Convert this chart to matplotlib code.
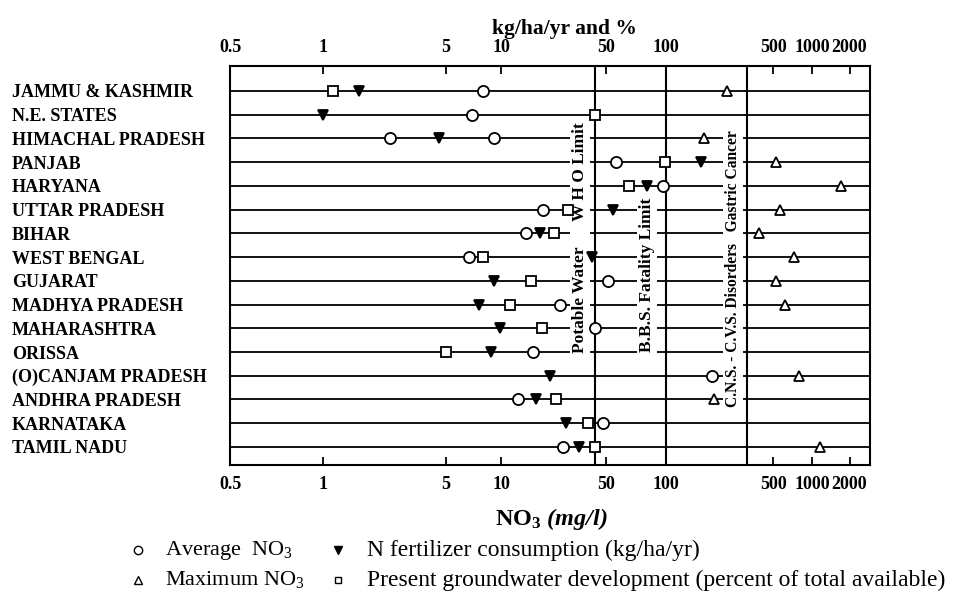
import numpy as np
import matplotlib
matplotlib.use("Agg")
import matplotlib.pyplot as plt
from matplotlib.lines import Line2D
from matplotlib.ticker import FixedLocator, FuncFormatter, NullLocator
from matplotlib.transforms import blended_transform_factory

plt.rcParams['font.family'] = ['Liberation Serif', 'DejaVu Serif']
plt.rcParams['mathtext.fontset'] = 'custom'
plt.rcParams['mathtext.rm'] = 'Liberation Serif'
plt.rcParams['mathtext.it'] = 'Liberation Serif:italic'
plt.rcParams['mathtext.bf'] = 'Liberation Serif:bold'
plt.rcParams['mathtext.bfit'] = 'Liberation Serif:italic:bold'

# data
states = ["JAMMU & KASHMIR", "N.E. STATES", "HIMACHAL PRADESH", "PANJAB",
          "HARYANA", "UTTAR PRADESH", "BIHAR", "WEST BENGAL", "GUJARAT",
          "MADHYA PRADESH", "MAHARASHTRA", "ORISSA", "(O)CANJAM PRADESH",
          "ANDHRA PRADESH", "KARNATAKA", "TAMIL NADU"]
avg_no3 = [8.0, 6.9, 9.1, 56, 97, 18.8, 14.6, 6.7, 51, 24.7, 42, 16.3, 201, 12.9, 47.8, 25.9]
avg_no3_second = [np.nan, np.nan, 2.4] + [np.nan] * 13
n_fertilizer = [1.6, 1.0, 4.6, 169, 80, 54, 18.2, 40, 9.1, 7.6, 9.8, 8.8, 21.2, 17.1, 27.1, 32.9]
gw_development = [1.14, 42, np.nan, 99, 65, 27.7, 22.4, 8.0, 15.8, 11.5, 18.6, 5.0,
                  np.nan, 23.1, 37.8, 42]
max_no3 = [250, np.nan, 177, 520, 1700, 565, 401, 718, 524, 620, np.nan, np.nan,
           782, 206, np.nan, 1158]

tick_values = [0.5, 1, 5, 10, 50, 100, 500, 1000, 2000]
limit_values = [42, 100, 337]
limit_texts = ["Potable Water      W H O Limit",
               "B.B.S. Fatality Limit",
               "C.N.S. - C.V.S. Disorders   Gastric Cancer"]

# the printed log axis is hand drawn: decades are not evenly spaced,
# so map log10(value) to the printed tick positions
knot_logs = np.log10([0.01, 0.5, 1, 5, 10, 50, 100, 500, 1000, 2000, 1e5])
knot_pos = np.array([-0.824, 0.0, 0.145, 0.337, 0.424, 0.588, 0.681,
                     0.849, 0.910, 0.968, 1.296])


def forward(x):
    x = np.clip(np.asarray(x, dtype=float), 1e-3, None)
    return np.interp(np.log10(x), knot_logs, knot_pos)


def inverse(f):
    return 10 ** np.interp(np.asarray(f, dtype=float), knot_pos, knot_logs)


W, H = 957, 598
fig = plt.figure(figsize=(W / 100, H / 100), dpi=100)
box = [230 / W, 1 - 465 / H, 640 / W, 399 / H]
ax = fig.add_axes(box)

ax.set_xscale('function', functions=(forward, inverse))
ax.set_xlim(0.5, float(inverse(1.0)))
rows = np.arange(len(states))
ax.set_ylim(15.76, -1.05)

# row lines
for r in rows:
    ax.axhline(r, color='black', lw=1.3, zorder=1)

# limit lines
for v in limit_values:
    ax.axvline(v, color='black', lw=1.5, zorder=4)

# vertical annotations
tr = blended_transform_factory(ax.transAxes, ax.transData)
text_x = [0.547, 0.652, 0.786]
text_bottom = [11.05, 11.0, 13.3]
text_size = [12.5, 12.5, 11.2]
for tx, tb, fs, s in zip(text_x, text_bottom, text_size, limit_texts):
    ax.text(tx, tb, s, transform=tr, rotation=90, ha='center', va='bottom',
            fontsize=fs, fontweight='bold', zorder=3,
            bbox=dict(facecolor='white', edgecolor='none', pad=1.5))

mk = dict(ls='none', color='black', mec='black', mew=1.3, zorder=5)
ax.plot(avg_no3, rows, marker='o', ms=8, mfc='white', **mk)
ax.plot(avg_no3_second, rows, marker='o', ms=8, mfc='white', **mk)
ax.plot(n_fertilizer, rows, marker='v', ms=7, mfc='black', **mk)
ax.plot(gw_development, rows, marker='s', ms=6.5, mfc='white', **mk)
ax.plot(max_no3, rows, marker='^', ms=7.5, mfc='white', **mk)

# x ticks, inward, top and bottom
ax.xaxis.set_major_locator(FixedLocator(tick_values))
ax.xaxis.set_minor_locator(NullLocator())
ax.xaxis.set_major_formatter(FuncFormatter(lambda v, p: f"{v:g}"))
ax.tick_params(axis='x', which='major', direction='in', length=6, width=1.3,
               top=True, bottom=True, labeltop=False, labelbottom=True,
               labelsize=13, pad=8)
for lab in ax.get_xticklabels():
    lab.set_fontweight('bold')

# state names as y tick labels
ax.set_yticks(rows)
ax.set_yticklabels(states, fontsize=13, fontweight='bold')
ax.tick_params(axis='y', length=0, pad=157)
for lab in ax.get_yticklabels():
    lab.set_ha('left')

for sp in ax.spines.values():
    sp.set_linewidth(1.5)

# top tick labels on an overlay axis (different padding)
ax_top = fig.add_axes(box, sharex=ax, frameon=False)
ax_top.patch.set_visible(False)
ax_top.set_yticks([])
ax_top.tick_params(axis='x', which='both', bottom=False, top=False,
                   labelbottom=False, labeltop=True, labelsize=13, pad=4)
for lab in ax_top.get_xticklabels():
    lab.set_fontweight('bold')

fig.text(564 / W, 1 - 29 / H, "kg/ha/yr and %", ha='center', va='center',
         fontsize=15.5, fontweight='bold')
fig.text(551 / W, 1 - 519 / H, r"NO$_\mathbf{3}$ $\mathbfit{(mg/l)}$",
         ha='center', va='center', fontsize=17.5, fontweight='bold')

# legend
leg_rows = [1 - 550 / H, 1 - 580 / H]
leg_items = [
    (138, 165, leg_rows[0], 'o', 'white', 6, 16, r"Average  NO$_3$"),
    (338, 367, leg_rows[0], 'v', 'black', 5.5, 17, "N fertilizer consumption (kg/ha/yr)"),
    (138, 165, leg_rows[1], '^', 'white', 5.5, 16, r"Maximum NO$_3$"),
    (338, 367, leg_rows[1], 's', 'white', 5, 17,
     "Present groundwater development (percent of total available)"),
]
for mx, txx, yy, m, fc, ms, fs, label in leg_items:
    fig.add_artist(Line2D([mx / W], [yy], transform=fig.transFigure, marker=m,
                          ms=ms, mfc=fc, mec='black', mew=1.0, ls='none'))
    fig.text(txx / W, yy, label, ha='left', va='center', fontsize=fs)

fig.savefig("out.png", dpi=100)
